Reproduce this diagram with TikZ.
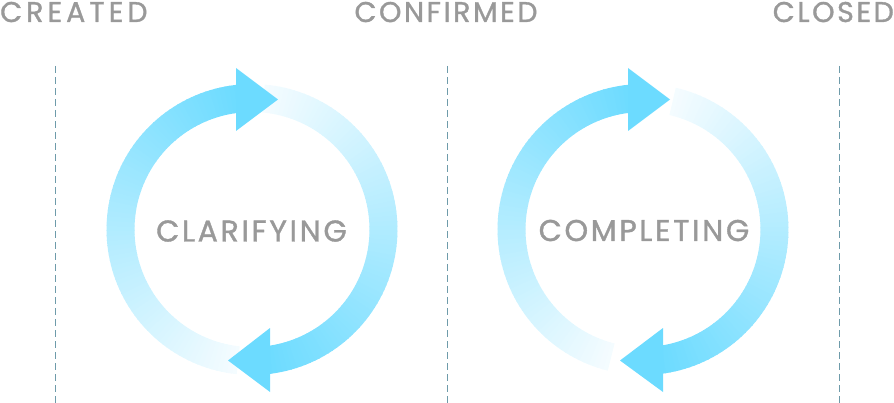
\documentclass[tikz,border=0pt]{standalone}
\usepackage{fontspec}
\setmainfont{Poppins}[LetterSpace=9, FakeBold=1.2]
\definecolor{headC}{RGB}{108,219,255}
\definecolor{tailC}{RGB}{245,252,255}
\definecolor{labelC}{RGB}{153,153,153}
\definecolor{dashC}{RGB}{110,155,170}
\newcommand\gradarc[4]{% cx, cy, tail angle, head angle (screen angles, y down)
  \pgfmathtruncatemacro\gN{round((#4-#3)/2)}
  \pgfmathsetmacro\gS{(#4-#3)/\gN}
  \foreach \i in {1,...,\gN}{
    \pgfmathsetmacro\ga{#3+(\i-1)*\gS}
    \pgfmathsetmacro\gb{\ga+\gS+0.35}
    \pgfmathsetmacro\gp{100*(\i-0.5)/\gN}
    \fill[headC!\gp!tailC, shift={(#1,#2)}]
      (\ga:145.5) -- (\gb:145.5) -- (\gb:117.5) -- (\ga:117.5) -- cycle;
  }
}
\tikzset{
  stagelabel/.style={text=labelC, font=\fontsize{28.5}{30}\selectfont, inner sep=0pt},
  cyclelabel/.style={text=labelC, font=\fontsize{30}{32}\selectfont, inner sep=0pt, anchor=base},
  divider/.style={draw=dashC, line width=1pt, dash pattern=on 7pt off 4pt},
  arrowhd/.style={fill=headC}
}
\begin{document}
\begin{tikzpicture}[x=1pt, y=-1pt]
\useasboundingbox (0,0) rectangle (894,403);
% dividers
\coordinate (d1t) at (55.5,66); \coordinate (d1b) at (55.5,403);
\coordinate (d2t) at (447.5,66); \coordinate (d2b) at (447.5,403);
\coordinate (d3t) at (839.5,66); \coordinate (d3b) at (839.5,403);
\draw[divider] (d1t) -- (d1b);
\draw[divider] (d2t) -- (d2b);
\draw[divider] (d3t) -- (d3b);
% stage labels
\node[stagelabel, anchor=base west] (created) at (0,22) {\addfontfeatures{LetterSpace=14}CREATED};
\node[stagelabel, anchor=base] (confirmed) at (446,22) {CONFIRMED};
\node[stagelabel, anchor=base east] (closed) at (894,22) {CLOSED};
% first cycle
\gradarc{252}{229.5}{96}{265}
\gradarc{252}{229.5}{275}{444}
\fill[arrowhd] (236,68) -- (278,99.5) -- (236,131) -- cycle;
\fill[arrowhd] (270,328) -- (228,360.5) -- (270,392) -- cycle;
\node[cyclelabel] (clarifying) at (251.5,241.5) {CLARIFYING};
% second cycle
\gradarc{643}{229.5}{104}{266}
\gradarc{643}{229.5}{283}{443}
\fill[arrowhd] (628,68) -- (670,99.5) -- (628,131) -- cycle;
\fill[arrowhd] (663,328) -- (620,360.5) -- (663,392) -- cycle;
\node[cyclelabel] (completing) at (644,241) {COMPLETING};
\end{tikzpicture}
\end{document}
